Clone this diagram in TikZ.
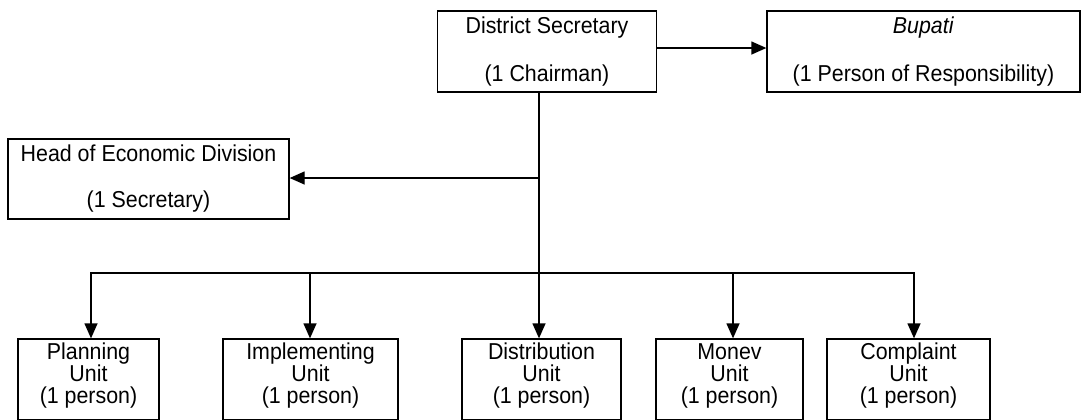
\documentclass[tikz,border=0pt]{standalone}
\usepackage{fontspec}
\setmainfont[FakeStretch=0.93]{Liberation Sans}
\usetikzlibrary{arrows.meta}
\begin{document}
\begin{tikzpicture}[x=1bp,y=-1bp,
  box/.style={draw,line width=1.3bp,rectangle,inner sep=0pt,align=center,
    font=\fontsize{23bp}{22bp}\selectfont},
  unitbox/.style={box,minimum height=81bp,text depth=12bp},
  arr/.style={line width=1.3bp,-{Triangle[length=15bp,width=13bp]}},
  ln/.style={line width=1.3bp,line cap=rect}]
\useasboundingbox (0,0) rectangle (1081,419);
\node[box,minimum width=219bp,minimum height=81bp] (dist) at (547,51.5)
  {District Secretary\\[26bp](1 Chairman)};
\node[box,minimum width=313bp,minimum height=81bp] (bup) at (923.5,51.5)
  {\textit{Bupati}\\[26bp](1 Person of Responsibility)};
\node[box,minimum width=281bp,minimum height=80bp] (head) at (148.5,179)
  {Head of Economic Division\\[24bp](1 Secretary)};
\node[unitbox,minimum width=141bp] (plan) at (88.5,379.5) {Planning\\Unit\\(1 person)};
\node[unitbox,minimum width=175bp] (impl) at (310.5,379.5) {Implementing\\Unit\\(1 person)};
\node[unitbox,minimum width=159bp] (distr) at (541.5,379.5) {Distribution\\Unit\\(1 person)};
\node[unitbox,minimum width=147bp] (monev) at (729.5,379.5) {Monev\\Unit\\(1 person)};
\node[unitbox,minimum width=163bp] (comp) at (908.5,379.5) {Complaint\\Unit\\(1 person)};
\coordinate (bP) at (91,273);
\coordinate (bI) at (310,273);
\coordinate (bD) at (539,273);
\coordinate (bM) at (733,273);
\coordinate (bC) at (914,273);
\coordinate (jH) at (539,178);
\draw[arr] ([yshift=3.5bp]dist.east) -- ([yshift=3.5bp]dist.east -| bup.west);
\draw[arr] (dist.south -| bD) -- (bD |- distr.north);
\draw[arr] (jH) -- (jH -| head.east);
\draw[ln] (bP) -- (bC);
\draw[arr] (bP) -- (bP |- plan.north);
\draw[arr] (bI) -- (bI |- impl.north);
\draw[arr] (bM) -- (bM |- monev.north);
\draw[arr] (bC) -- (bC |- comp.north);
\end{tikzpicture}
\end{document}
